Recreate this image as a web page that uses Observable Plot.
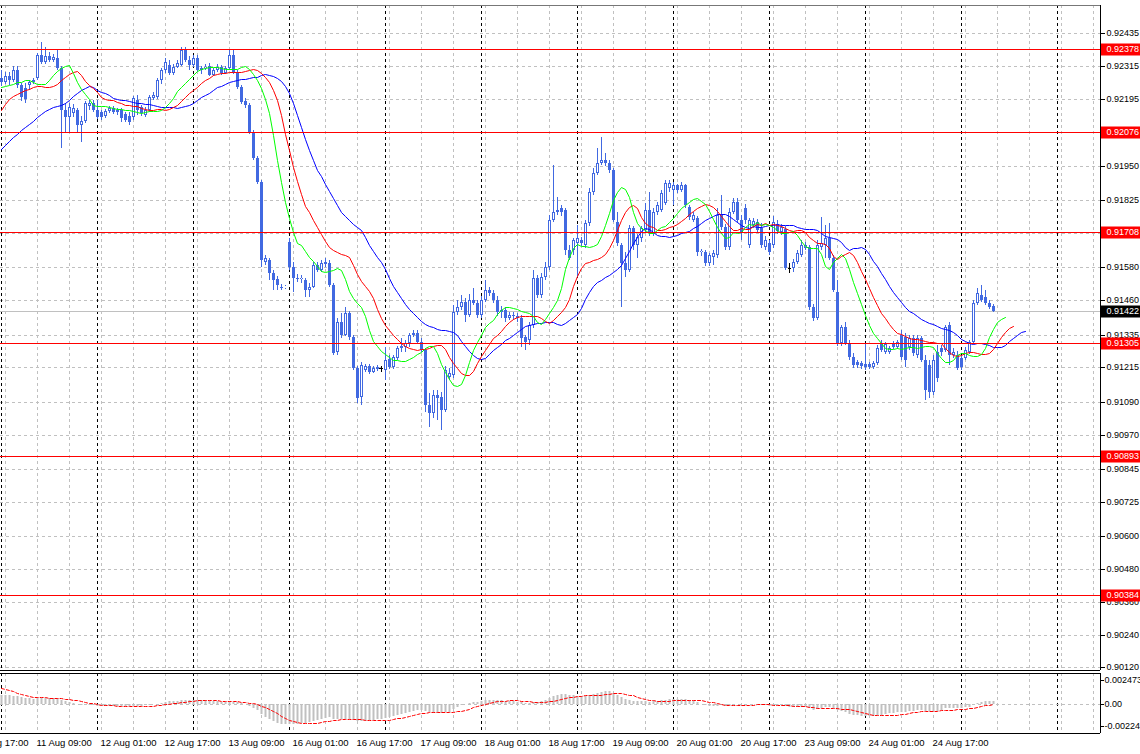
<!DOCTYPE html>
<html>
<head>
<meta charset="utf-8">
<script src="https://cdn.jsdelivr.net/npm/d3@7"></script>
<script src="https://cdn.jsdelivr.net/npm/@observablehq/plot@0.6"></script>
<style>
html, body { margin: 0; padding: 0; background: #fff; overflow: hidden; }
#chart svg { display: block; }
</style>
</head>
<body>
<div id="chart"></div>
<script>
// ---- Time axis (H1 bars; bar 0 = 11 Aug 00:00) ----
const days = ["10 Aug","11 Aug","12 Aug","13 Aug","16 Aug","17 Aug","18 Aug","19 Aug","20 Aug","23 Aug","24 Aug","25 Aug","26 Aug"];

// ---- OHLC prices, one value per hourly bar ----
const open = [
0.92271,0.92257,0.92278,0.92264,0.92300,0.92246,0.92235,0.92246,0.92257,0.92271,0.92355,0.92330,0.92352,0.92337,0.92344,0.92308,0.92154,0.92129,0.92144,0.92154,0.92100,0.92114,0.92169,0.92180,
0.92154,0.92147,0.92133,0.92151,0.92162,0.92147,0.92154,0.92140,0.92133,0.92129,0.92191,0.92165,0.92136,0.92154,0.92198,0.92202,0.92264,0.92300,0.92319,0.92290,0.92311,0.92319,0.92374,0.92337,
0.92319,0.92344,0.92300,0.92308,0.92315,0.92282,0.92300,0.92311,0.92290,0.92308,0.92355,0.92293,0.92238,0.92187,0.92173,0.92074,0.91979,0.91892,0.91600,0.91607,0.91560,0.91538,0.91508,0.91508,
0.91673,0.91581,0.91541,0.91538,0.91534,0.91497,0.91508,0.91589,0.91570,0.91592,0.91596,0.91516,0.91271,0.91381,0.91333,0.91413,0.91326,0.91213,0.91107,0.91205,0.91220,0.91198,0.91209,0.91213,
0.91205,0.91246,0.91216,0.91249,0.91286,0.91289,0.91304,0.91333,0.91340,0.91308,0.91278,0.91078,0.91049,0.91114,0.91107,0.91059,0.91180,0.91187,0.91417,0.91435,0.91454,0.91406,0.91461,0.91450,
0.91406,0.91461,0.91497,0.91487,0.91461,0.91417,0.91424,0.91395,0.91406,0.91403,0.91395,0.91326,0.91315,0.91370,0.91541,0.91479,0.91545,0.91581,0.91753,0.91782,0.91797,0.91789,0.91643,0.91643,
0.91669,0.91680,0.91662,0.91742,0.91855,0.91925,0.91961,0.91972,0.91961,0.91935,0.91746,0.91662,0.91596,0.91570,0.91724,0.91662,0.91687,0.91716,0.91789,0.91706,0.91782,0.91789,0.91815,0.91870,
0.91862,0.91881,0.91862,0.91881,0.91800,0.91753,0.91760,0.91636,0.91636,0.91596,0.91618,0.91625,0.91771,0.91727,0.91654,0.91782,0.91819,0.91753,0.91797,0.91662,0.91735,0.91746,0.91724,0.91654,
0.91669,0.91662,0.91738,0.91709,0.91720,0.91578,0.91578,0.91600,0.91625,0.91651,0.91654,0.91435,0.91395,0.91654,0.91662,0.91687,0.91614,0.91490,0.91304,0.91362,0.91304,0.91253,0.91235,0.91231,
0.91227,0.91227,0.91216,0.91231,0.91304,0.91271,0.91271,0.91304,0.91289,0.91333,0.91326,0.91289,0.91322,0.91260,0.91322,0.91242,0.91224,0.91125,0.91271,0.91286,0.91278,0.91370,0.91260,0.91260,
0.91249,0.91249,0.91271,0.91308,0.91450,0.91479,0.91472,0.91450,0.91439];
const high = [
0.92300,0.92293,0.92293,0.92315,0.92315,0.92253,0.92253,0.92264,0.92271,0.92363,0.92403,0.92384,0.92366,0.92359,0.92374,0.92315,0.92180,0.92180,0.92176,0.92162,0.92133,0.92187,0.92191,0.92191,
0.92191,0.92154,0.92158,0.92169,0.92169,0.92162,0.92162,0.92147,0.92147,0.92206,0.92209,0.92173,0.92165,0.92209,0.92220,0.92271,0.92308,0.92344,0.92337,0.92322,0.92337,0.92384,0.92384,0.92352,
0.92355,0.92355,0.92315,0.92322,0.92326,0.92308,0.92322,0.92319,0.92315,0.92374,0.92374,0.92300,0.92246,0.92198,0.92180,0.92081,0.91987,0.91899,0.91625,0.91614,0.91570,0.91549,0.91519,0.91516,
0.91687,0.91600,0.91556,0.91552,0.91541,0.91523,0.91600,0.91600,0.91607,0.91614,0.91607,0.91523,0.91395,0.91413,0.91435,0.91421,0.91333,0.91220,0.91235,0.91227,0.91227,0.91220,0.91224,0.91220,
0.91289,0.91260,0.91260,0.91293,0.91322,0.91315,0.91340,0.91351,0.91351,0.91322,0.91286,0.91121,0.91132,0.91132,0.91125,0.91220,0.91213,0.91443,0.91461,0.91479,0.91468,0.91483,0.91505,0.91461,
0.91476,0.91534,0.91508,0.91497,0.91476,0.91439,0.91435,0.91417,0.91417,0.91413,0.91406,0.91333,0.91381,0.91570,0.91552,0.91560,0.91600,0.91771,0.91954,0.91837,0.91808,0.91797,0.91662,0.91687,
0.91735,0.91691,0.91753,0.91870,0.91943,0.92016,0.92056,0.91998,0.91972,0.91943,0.91782,0.91669,0.91636,0.91735,0.91731,0.91702,0.91731,0.91815,0.91855,0.91797,0.91819,0.91862,0.91899,0.91899,
0.91892,0.91884,0.91892,0.91884,0.91808,0.91782,0.91767,0.91647,0.91643,0.91632,0.91643,0.91797,0.91844,0.91738,0.91797,0.91833,0.91833,0.91771,0.91812,0.91760,0.91760,0.91756,0.91742,0.91695,
0.91680,0.91767,0.91753,0.91738,0.91731,0.91596,0.91611,0.91643,0.91680,0.91673,0.91662,0.91446,0.91680,0.91764,0.91735,0.91742,0.91625,0.91534,0.91370,0.91381,0.91315,0.91268,0.91242,0.91238,
0.91304,0.91235,0.91238,0.91297,0.91315,0.91308,0.91293,0.91311,0.91315,0.91351,0.91340,0.91333,0.91333,0.91333,0.91329,0.91260,0.91242,0.91260,0.91297,0.91297,0.91370,0.91381,0.91286,0.91275,
0.91260,0.91289,0.91315,0.91461,0.91505,0.91516,0.91497,0.91461,0.91446];
const low = [
0.92242,0.92249,0.92246,0.92257,0.92235,0.92187,0.92180,0.92228,0.92249,0.92264,0.92322,0.92322,0.92330,0.92330,0.92300,0.92016,0.92074,0.92074,0.92129,0.92071,0.92038,0.92107,0.92154,0.92147,
0.92122,0.92118,0.92125,0.92144,0.92140,0.92136,0.92111,0.92111,0.92100,0.92118,0.92136,0.92133,0.92129,0.92147,0.92191,0.92195,0.92249,0.92290,0.92282,0.92282,0.92308,0.92315,0.92330,0.92300,
0.92311,0.92293,0.92286,0.92300,0.92278,0.92278,0.92293,0.92282,0.92286,0.92300,0.92286,0.92231,0.92176,0.92162,0.92067,0.91972,0.91884,0.91581,0.91589,0.91534,0.91497,0.91497,0.91497,0.91501,
0.91570,0.91490,0.91527,0.91523,0.91472,0.91472,0.91505,0.91563,0.91563,0.91581,0.91508,0.91260,0.91260,0.91322,0.91329,0.91315,0.91205,0.91085,0.91078,0.91198,0.91191,0.91194,0.91202,0.91198,
0.91169,0.91209,0.91209,0.91242,0.91271,0.91271,0.91289,0.91326,0.91300,0.91271,0.91052,0.90997,0.91030,0.91023,0.90986,0.91052,0.91169,0.91176,0.91406,0.91424,0.91381,0.91399,0.91443,0.91395,
0.91395,0.91454,0.91476,0.91450,0.91403,0.91395,0.91381,0.91388,0.91388,0.91381,0.91289,0.91278,0.91297,0.91359,0.91468,0.91468,0.91534,0.91570,0.91746,0.91771,0.91767,0.91625,0.91607,0.91625,
0.91545,0.91658,0.91651,0.91731,0.91844,0.91917,0.91954,0.91950,0.91925,0.91746,0.91658,0.91435,0.91545,0.91563,0.91643,0.91614,0.91673,0.91709,0.91695,0.91695,0.91771,0.91782,0.91808,0.91855,
0.91808,0.91852,0.91855,0.91797,0.91753,0.91746,0.91621,0.91621,0.91585,0.91585,0.91589,0.91614,0.91716,0.91643,0.91643,0.91775,0.91742,0.91680,0.91738,0.91651,0.91724,0.91709,0.91651,0.91643,
0.91625,0.91651,0.91702,0.91698,0.91570,0.91560,0.91563,0.91592,0.91618,0.91643,0.91424,0.91384,0.91388,0.91643,0.91614,0.91607,0.91490,0.91293,0.91293,0.91297,0.91242,0.91213,0.91213,0.91209,
0.91205,0.91209,0.91209,0.91224,0.91271,0.91264,0.91264,0.91282,0.91282,0.91242,0.91216,0.91278,0.91257,0.91249,0.91235,0.91096,0.91103,0.91114,0.91161,0.91257,0.91271,0.91224,0.91249,0.91205,
0.91205,0.91242,0.91264,0.91300,0.91443,0.91454,0.91443,0.91428,0.91417];
const close = [
0.92257,0.92278,0.92264,0.92300,0.92246,0.92202,0.92195,0.92257,0.92264,0.92355,0.92330,0.92352,0.92337,0.92348,0.92308,0.92154,0.92129,0.92165,0.92162,0.92100,0.92114,0.92180,0.92180,0.92154,
0.92129,0.92129,0.92151,0.92162,0.92147,0.92154,0.92125,0.92118,0.92111,0.92198,0.92154,0.92144,0.92154,0.92202,0.92209,0.92264,0.92300,0.92330,0.92290,0.92311,0.92326,0.92374,0.92337,0.92319,
0.92344,0.92300,0.92308,0.92311,0.92282,0.92300,0.92311,0.92290,0.92308,0.92355,0.92293,0.92238,0.92184,0.92173,0.92074,0.91979,0.91892,0.91607,0.91614,0.91560,0.91534,0.91516,0.91505,0.91509,
0.91581,0.91541,0.91538,0.91541,0.91497,0.91508,0.91589,0.91570,0.91596,0.91600,0.91516,0.91268,0.91381,0.91333,0.91413,0.91326,0.91213,0.91103,0.91224,0.91220,0.91198,0.91213,0.91216,0.91213,
0.91242,0.91216,0.91253,0.91286,0.91293,0.91304,0.91333,0.91340,0.91308,0.91278,0.91078,0.91049,0.91114,0.91103,0.91059,0.91205,0.91194,0.91417,0.91435,0.91454,0.91406,0.91461,0.91450,0.91406,
0.91461,0.91497,0.91487,0.91461,0.91417,0.91424,0.91395,0.91406,0.91403,0.91395,0.91322,0.91308,0.91370,0.91541,0.91479,0.91545,0.91581,0.91753,0.91782,0.91789,0.91782,0.91643,0.91614,0.91680,
0.91687,0.91669,0.91742,0.91855,0.91925,0.91961,0.91972,0.91961,0.91935,0.91753,0.91669,0.91596,0.91570,0.91724,0.91662,0.91691,0.91724,0.91789,0.91706,0.91782,0.91808,0.91852,0.91888,0.91888,
0.91881,0.91862,0.91881,0.91808,0.91764,0.91771,0.91636,0.91640,0.91596,0.91625,0.91632,0.91771,0.91727,0.91654,0.91782,0.91819,0.91753,0.91709,0.91753,0.91753,0.91749,0.91716,0.91662,0.91680,
0.91636,0.91746,0.91713,0.91727,0.91578,0.91578,0.91600,0.91632,0.91662,0.91662,0.91435,0.91395,0.91662,0.91669,0.91687,0.91614,0.91497,0.91304,0.91362,0.91304,0.91253,0.91224,0.91224,0.91220,
0.91216,0.91216,0.91231,0.91286,0.91278,0.91300,0.91286,0.91289,0.91308,0.91253,0.91242,0.91322,0.91268,0.91322,0.91242,0.91132,0.91125,0.91242,0.91176,0.91271,0.91362,0.91260,0.91271,0.91213,
0.91216,0.91278,0.91308,0.91450,0.91487,0.91461,0.91450,0.91435,0.91422];

// ---- Horizontal levels, bid, axis ticks ----
const levels = [0.92378, 0.92076, 0.91708, 0.91305, 0.90893, 0.90384];
const bid = 0.91422;
const priceTicks = [0.92435,0.92315,0.92195,0.92075,0.91950,0.91825,0.91705,0.91580,0.91460,0.91335,0.91215,0.91090,0.90970,0.90845,0.90725,0.90600,0.90480,0.90360,0.90240,0.90120];
const priceDomain = [0.901105, 0.925378];

// ---- Alligator: line values read at the left edge (before the first bar) ----
const jawStart   = [0.92012,0.92027,0.92041,0.92056,0.92067,0.92082,0.92092,0.92103];
const teethStart = [0.92155,0.92176,0.92195,0.92206,0.92213];
const lipsStart  = [0.92238,0.92242,0.92246];

// ---- MACD (12,26,9): state read at the left edge ----
const macdSeedEma12 = 0.92220, macdSeedEma26 = 0.92120;
const macdPrior = [0.0019,0.0019,0.0018,0.0018,0.0017,0.0016,0.0015,0.0012];
const macdTicks = [0.002473, 0, -0.00224];
const macdTickLabels = ["0.002473", "0.00", "-0.00224"];
const macdDomain = [-0.002892, 0.003125];

// ================= build =================
const royal = "#4169e1";
const xDomain = [-0.25, 274.75];
const bars = close.map((c, i) => ({i, o: open[i], h: high[i], l: low[i], c}));
const body = bars.filter(d => d.o !== d.c);
const bull = bars.filter(d => d.c > d.o);
const doji = bars.filter(d => d.c === d.o);

const median = bars.map(d => (d.h + d.l) / 2);
function smmaLine(start, period, shift) {
  let v = start[start.length - 1];
  const pts = start.map((s, k) => ({i: k, v: s}));
  median.forEach((m, k) => { v = (v * (period - 1) + m) / period; pts.push({i: k + shift, v}); });
  return pts;
}
const jaw = smmaLine(jawStart, 13, 8);
const teeth = smmaLine(teethStart, 8, 5);
const lips = smmaLine(lipsStart, 5, 3);

let e12 = macdSeedEma12, e26 = macdSeedEma26;
const macd = close.map((c, i) => { e12 += (c - e12) * 2 / 13; e26 += (c - e26) * 2 / 27; return {i, m: e12 - e26}; });
const hist = macdPrior.concat(macd.map(d => d.m));
const signal = macd.map((d, k) => ({i: d.i, s: d3.mean(hist.slice(k, k + 9))}));

const lastBar = bars.length - 1;
const gridIdx = d3.range(1, xDomain[1], 8);
const sepIdx = d3.range(0, xDomain[1], 24);
const xLabelIdx = d3.range(-7, lastBar + 1, 16);
const xLabel = i => days[Math.floor((i + 24) / 24)] + " " + String(((i % 24) + 24) % 24).padStart(2, "0") + ":00";

const font = "'Liberation Sans', Arial, sans-serif";
const gridStyle = {stroke: "#c0c0c0", strokeDasharray: "3,3"};
const sepStyle = {stroke: "#000", strokeDasharray: "3,3"};
const fmt5 = d3.format(".5f");

const main = Plot.plot({
  width: 1140, height: 672,
  marginTop: 5, marginBottom: 2, marginLeft: 0, marginRight: 40,
  x: {domain: xDomain, axis: null, round: true},
  y: {domain: priceDomain, axis: null, round: true},
  style: {fontFamily: font, fontSize: "9px", color: "#000", background: "#fff"},
  marks: [
    Plot.ruleY(priceTicks, gridStyle),
    Plot.ruleX(gridIdx, gridStyle),
    Plot.ruleX(sepIdx, sepStyle),
    Plot.ruleY([bid], {stroke: "#c0c0c0"}),
    Plot.ruleX(body, {x: "i", y1: "l", y2: "h", stroke: royal}),
    Plot.ruleX(doji, {x: "i", y1: "l", y2: "h", stroke: "#000"}),
    Plot.ruleY(doji, {y: "o", x1: d => d.i - 0.375, x2: d => d.i + 0.375, stroke: "#000"}),
    Plot.ruleX(body, {x: "i", y1: d => Math.max(d.o, d.c), y2: d => Math.min(d.o, d.c), stroke: royal, strokeWidth: 3}),
    Plot.ruleX(bull, {x: "i", y1: "c", y2: "o", stroke: "#fff", strokeWidth: 1, insetTop: 1, insetBottom: 1}),
    Plot.line(jaw, {x: "i", y: "v", stroke: "#0000ff", strokeWidth: 1}),
    Plot.line(teeth, {x: "i", y: "v", stroke: "#ff0000", strokeWidth: 1}),
    Plot.line(lips, {x: "i", y: "v", stroke: "#00ff00", strokeWidth: 1}),
    Plot.ruleY(levels, {stroke: "#ff0000"}),
    Plot.ruleY([priceDomain[1]], {stroke: "#777"}),
    Plot.ruleY([priceDomain[0]], {stroke: "#000"}),
    Plot.ruleX([xDomain[1]], {stroke: "#000"}),
    Plot.axisY({ticks: priceTicks, anchor: "right", tickSize: 4, tickPadding: 2, tickFormat: fmt5, label: null, fontSize: 9}),
    Plot.ruleY(levels, {x1: xDomain[1] + 0.25, x2: xDomain[1] + 12, stroke: "#ff0000", strokeWidth: 12}),
    Plot.text(levels, {x: xDomain[1], y: d => d, text: fmt5, dx: 6, textAnchor: "start", fill: "#fff", fontSize: 9}),
    Plot.ruleY([bid], {x1: xDomain[1] + 0.25, x2: xDomain[1] + 12, stroke: "#000", strokeWidth: 12}),
    Plot.text([bid], {x: xDomain[1], y: d => d, text: fmt5, dx: 6, textAnchor: "start", fill: "#fff", fontSize: 9})
  ]
});

const sub = Plot.plot({
  width: 1140, height: 82,
  marginTop: 1, marginBottom: 21, marginLeft: 0, marginRight: 40,
  x: {domain: xDomain, axis: null, round: true},
  y: {domain: macdDomain, axis: null, round: true},
  style: {fontFamily: font, fontSize: "9px", color: "#000", background: "#fff"},
  marks: [
    Plot.ruleX(gridIdx, gridStyle),
    Plot.ruleX(sepIdx, sepStyle),
    Plot.ruleY([0], gridStyle),
    Plot.ruleX(macd, {x: "i", y1: 0, y2: "m", stroke: "#c0c0c0", strokeWidth: 2, clip: true}),
    Plot.line(signal, {x: "i", y: "s", stroke: "#ff0000", strokeWidth: 1, strokeDasharray: "3,2", clip: true}),
    Plot.ruleY([macdDomain[1]], {stroke: "#000"}),
    Plot.ruleY([macdDomain[0]], {stroke: "#000"}),
    Plot.ruleX([xDomain[1]], {stroke: "#000"}),
    Plot.axisY({ticks: macdTicks, anchor: "right", tickSize: 3, tickPadding: 1, tickFormat: d => macdTickLabels[macdTicks.indexOf(d)], label: null, fontSize: 9}),
    Plot.axisX({ticks: xLabelIdx, anchor: "bottom", tickSize: 0, tickPadding: 6, tickFormat: xLabel, textAnchor: "start", dx: -1, label: null, fontSize: 9.5})
  ]
});

const root = document.getElementById("chart");
root.append(main, sub);
</script>
</body>
</html>
